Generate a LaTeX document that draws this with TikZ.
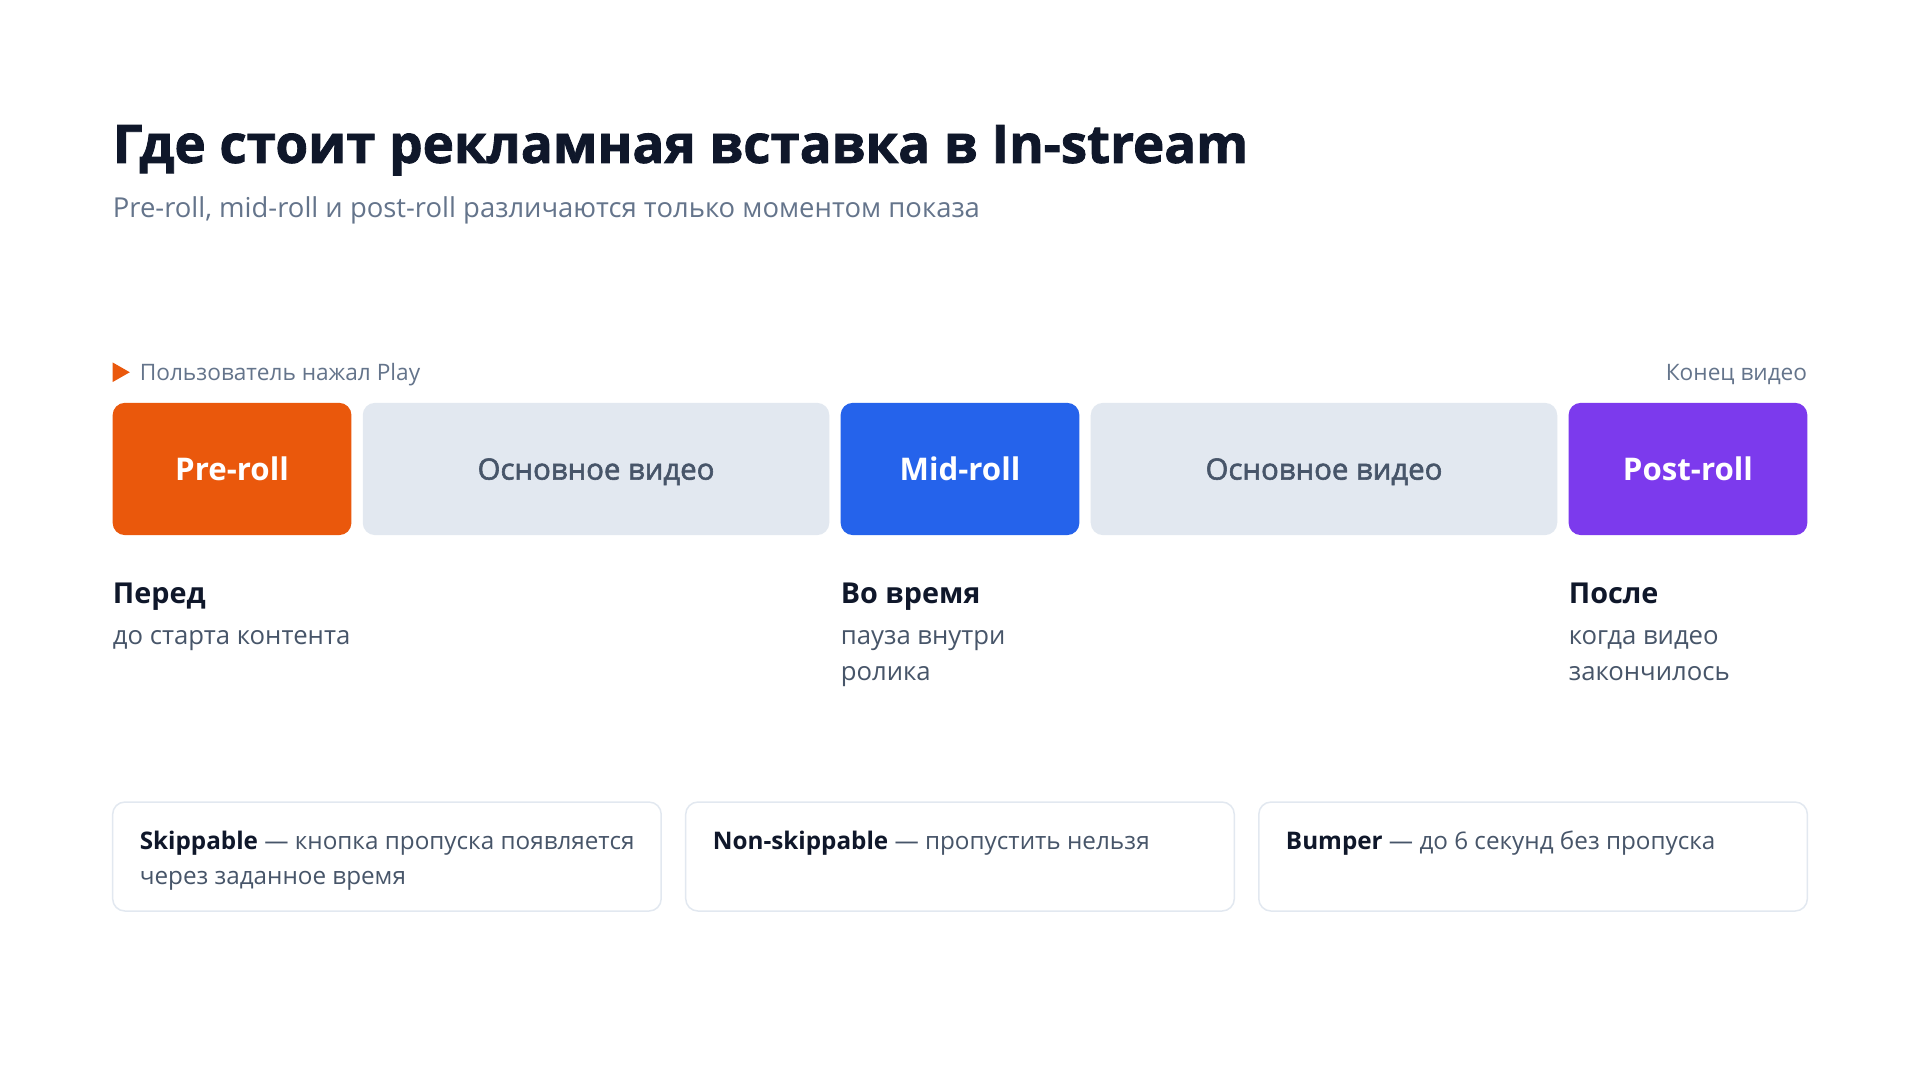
\documentclass[tikz,border=0pt]{standalone}
\usepackage{fontspec}
\setmainfont{Open Sans}
\newfontfamily\heavyfont{Open Sans}[BoldFeatures={FakeBold=1.6}]
\newfontfamily\semifont{Open Sans}[FakeBold=2]
\usetikzlibrary{positioning}

\definecolor{ink}{HTML}{0F172A}
\definecolor{slate}{HTML}{64748B}
\definecolor{slatedark}{HTML}{475569}
\definecolor{videogray}{HTML}{E2E8F0}
\definecolor{cardline}{HTML}{E2E8F0}
\definecolor{preorange}{HTML}{EA580C}
\definecolor{midblue}{HTML}{2563EB}
\definecolor{postpurple}{HTML}{7C3AED}

\begin{document}
\begin{tikzpicture}[x=1pt, y=1pt,
      title/.style={inner sep=0pt, text=ink, font=\heavyfont\bfseries\fontsize{43.2}{50}\selectfont},
      subtitle/.style={inner sep=0pt, text=slate, font=\fontsize{22.4}{26}\selectfont},
      marker/.style={inner sep=0pt, text=slate, font=\fontsize{18.5}{22}\selectfont},
      adbox/.style={rectangle, rounded corners=10pt, minimum width=195pt, minimum height=108pt, inner sep=0pt, outer sep=0pt, text depth=0pt, text=white, font=\bfseries\fontsize{25.5}{30}\selectfont},
      preroll/.style={adbox, fill=preorange},
      midroll/.style={adbox, fill=midblue},
      postroll/.style={adbox, fill=postpurple},
      videobox/.style={rectangle, rounded corners=10pt, fill=videogray, minimum width=381pt, minimum height=108pt, inner sep=0pt, outer sep=0pt, text depth=0pt, text=slatedark, font=\semifont\fontsize{24}{30}\selectfont},
      phasehead/.style={inner sep=0pt, text=ink, font=\bfseries\fontsize{23.5}{28}\selectfont},
      phasenote/.style={inner sep=0pt, align=left, text=slatedark, font=\fontsize{21}{30}\selectfont},
      card/.style={rectangle, rounded corners=10pt, draw=cardline, line width=1.2pt, fill=white, minimum width=448pt, minimum height=89pt, inner sep=0pt, outer sep=0pt},
      cardtext/.style={inner sep=0pt, align=left, text=slatedark, font=\fontsize{19.8}{28}\selectfont},
    ]
    \fill[white] (0,0) rectangle (1568,-882);
    \useasboundingbox (0,0) rectangle (1568,-882);

    % Heading
    \node[title, anchor=base west] (head) at (92,-133) {Где стоит рекламная вставка в In-stream};
    \node[subtitle, anchor=base west] (sub) at (92,-178) {Pre-roll, mid-roll и post-roll различаются только моментом показа};

    % Timeline labels
    \fill[preorange] (92,-296) -- (106,-304) -- (92,-312) -- cycle;
    \node[marker, anchor=base west] (start) at (114,-311) {Пользователь нажал Play};
    \node[marker, anchor=base east] (end) at (1476,-311) {Конец видео};

    % Nodes
    \node[preroll, anchor=north west] (pre) at (92,-329) {Pre-roll};
    \node[videobox, right=9.25pt of pre] (main1) {Основное видео};
    \node[midroll, right=9.25pt of main1] (mid) {Mid-roll};
    \node[videobox, right=9.25pt of mid] (main2) {Основное видео};
    \node[postroll, right=9.25pt of main2] (post) {Post-roll};

    % Phases (base of a two-line node is its last line)
    \node[phasehead, anchor=base west] (before) at ([yshift=-56pt]pre.south west) {Перед};
    \node[phasehead, anchor=base west] (during) at ([yshift=-56pt]mid.south west) {Во время};
    \node[phasehead, anchor=base west] (after) at ([yshift=-56pt]post.south west) {После};
    \node[phasenote, anchor=base west] (beforenote) at ([yshift=-33pt]before.base west) {до старта контента};
    \node[phasenote, anchor=base west] (duringnote) at ([yshift=-63pt]during.base west) {пауза внутри\\ролика};
    \node[phasenote, anchor=base west] (afternote) at ([yshift=-63pt]after.base west) {когда видео\\закончилось};

    % Cards
    \node[card, anchor=north west] (skip) at (92,-655) {};
    \node[card, right=20pt of skip] (nonskip) {};
    \node[card, right=20pt of nonskip] (bumper) {};
    \node[cardtext, anchor=base west] (skiptext) at ([xshift=22pt, yshift=-67pt]skip.north west) {{\color{ink}\bfseries Skippable} — кнопка пропуска появляется\\через заданное время};
    \node[cardtext, anchor=base west] (nonskiptext) at ([xshift=22pt, yshift=-39pt]nonskip.north west) {{\color{ink}\bfseries Non-skippable} — пропустить нельзя};
    \node[cardtext, anchor=base west] (bumpertext) at ([xshift=22pt, yshift=-39pt]bumper.north west) {{\color{ink}\bfseries Bumper} — до 6 секунд без пропуска};
  \end{tikzpicture}
\end{document}
